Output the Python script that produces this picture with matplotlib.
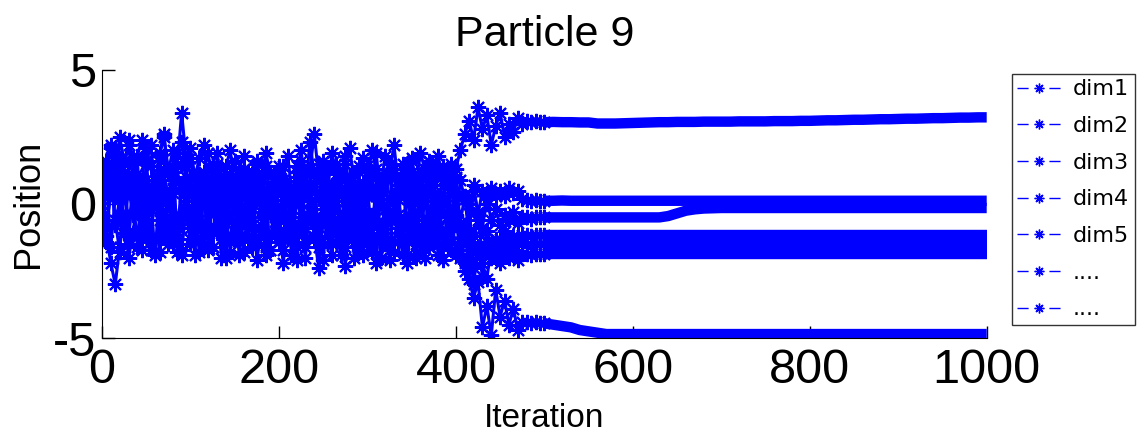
import matplotlib.pyplot as plt
from matplotlib.lines import Line2D
from matplotlib.font_manager import FontProperties

plt.rcParams['font.family'] = ['Liberation Sans', 'DejaVu Sans']
plt.rcParams['axes.unicode_minus'] = False

# iterations: every 5 while the swarm is still exploring, every 10 afterwards
iters_explore = list(range(0, 500, 5))
iters_settled = list(range(500, 1001, 10))

dim1_explore = [0.8, 1.6, 2.2, 1.9, 0.5, 1.2, 2.4, 1.7, -0.2, 0.9,
                2.1, 1.4, 0.3, 1.8, 2.5, 1.1, 0.6, 1.9, 2.3, 1.0,
                1.7, 0.4, -0.6, 1.2, 1.9, 0.8, 1.5, 0.2, -0.4, 1.1,
                1.6, 0.7, 1.3, -0.3, 0.9, 1.5, 0.1, 1.2, 0.6, -0.5,
                0.8, 1.4, 0.3, -0.8, 1.0, 1.6, 0.5, 2.3, 1.1, 0.2,
                1.3, 0.7, -0.2, 1.5, 0.9, 1.8, 0.4, 1.1, -0.6, 0.8,
                1.4, 0.6, 1.9, 0.2, 1.0, 1.5, -0.3, 0.9, 1.3, 0.5,
                1.7, 0.8, 0.1, 1.2, 1.6, 0.7, 1.1, 1.4, 0.9, 1.5,
                1.3, 2.0, 2.6, 3.1, 2.4, 3.6, 2.8, 3.3, 2.2, 2.9,
                3.4, 2.5, 3.0, 2.7, 3.2, 3.0, 3.1, 3.05, 3.1, 3.05]
dim1_settled = [3.05, 3.06, 3.05, 3.05, 3.04, 3.04, 3.0, 3.0, 3.0, 3.01,
                3.02, 3.03, 3.04, 3.05, 3.05, 3.06, 3.06, 3.06, 3.07, 3.07,
                3.07, 3.07, 3.08, 3.08, 3.08, 3.08, 3.09, 3.09, 3.09, 3.1,
                3.1, 3.11, 3.12, 3.12, 3.13, 3.14, 3.14, 3.15, 3.16, 3.16,
                3.17, 3.18, 3.18, 3.19, 3.2, 3.2, 3.21, 3.22, 3.22, 3.23,
                3.23]

dim2_explore = [-0.5, 0.6, 1.3, -0.8, 0.2, 1.5, -1.2, 0.4, 1.1, -0.3,
                0.9, -1.4, 0.5, 1.6, -0.7, 0.1, 1.2, -1.0, 0.6, 1.4,
                -0.9, 0.3, 1.1, -1.5, 0.7, -0.2, 1.3, -1.1, 0.4, 0.9,
                -1.3, 0.6, -0.4, 1.2, -0.8, 0.3, 1.0, -1.6, 0.5, 1.1,
                -0.6, 0.8, -1.2, 0.2, 1.4, -0.9, 0.6, -0.3, 1.1, -1.4,
                0.5, 1.3, -0.7, 0.1, -1.5, 0.9, 0.3, -1.0, 1.2, -0.4,
                0.7, -1.3, 1.0, 0.2, -0.8, 1.5, -0.5, 0.4, -1.2, 0.8,
                1.2, -0.6, 0.3, -1.4, 0.9, 0.1, -0.9, 1.1, -0.3, 0.6,
                -0.8, 0.9, 0.2, -1.1, 0.7, -0.4, 0.5, 0.0, 0.6, 0.3,
                0.5, 0.3, 0.6, 0.4, 0.5, 0.2, 0.15, 0.12, 0.13, 0.12]
dim2_settled = [0.12, 0.12, 0.13, 0.12, 0.12, 0.12, 0.12, 0.12, 0.12, 0.12,
                0.12, 0.12, 0.12, 0.12, 0.12, 0.12, 0.12, 0.12, 0.12, 0.12,
                0.12, 0.12, 0.12, 0.12, 0.12, 0.12, 0.12, 0.12, 0.12, 0.12,
                0.12, 0.12, 0.12, 0.12, 0.12, 0.12, 0.12, 0.12, 0.12, 0.12,
                0.12, 0.12, 0.12, 0.12, 0.12, 0.12, 0.12, 0.12, 0.12, 0.12,
                0.12]

dim3_explore = [1.2, -0.9, 0.4, 1.8, -0.4, 0.8, -1.5, 1.0, 0.2, -1.1,
                1.6, -0.2, 0.7, -1.3, 1.1, 0.3, -0.8, 1.5, -0.5, 0.6,
                1.0, -1.2, 0.5, 0.1, -0.9, 1.4, -0.3, 0.8, -1.4, 0.2,
                0.9, -0.7, 1.3, 0.0, -1.2, 0.6, -0.5, 1.4, 0.3, -1.0,
                1.1, -0.4, 0.7, -1.3, 0.4, 1.2, -0.9, 0.1, -0.6, 1.5,
                -0.2, 0.8, -1.1, 1.3, 0.5, -0.8, 1.0, -0.3, 0.6, -1.5,
                0.3, 1.2, -0.7, 0.9, -1.1, 0.2, 1.3, -0.4, 0.8, -0.9,
                0.5, -1.2, 1.0, 0.4, -0.6, 1.3, -1.0, 0.2, 0.8, -0.5,
                1.0, -0.7, 0.3, -1.0, 0.5, -0.3, -0.9, 0.2, -0.6, -0.2,
                -0.8, -0.4, -0.6, -0.3, -0.7, -0.5, -0.5, -0.55, -0.5, -0.5]
dim3_settled = [-0.5, -0.5, -0.5, -0.5, -0.5, -0.5, -0.5, -0.5, -0.5, -0.5,
                -0.5, -0.5, -0.5, -0.5, -0.45, -0.35, -0.25, -0.2, -0.17, -0.16,
                -0.15, -0.15, -0.15, -0.15, -0.15, -0.15, -0.15, -0.15, -0.15, -0.15,
                -0.15, -0.15, -0.15, -0.15, -0.15, -0.15, -0.15, -0.15, -0.15, -0.15,
                -0.15, -0.15, -0.15, -0.15, -0.15, -0.15, -0.15, -0.15, -0.15, -0.15,
                -0.15]

dim4_explore = [-0.8, 0.9, -1.6, 0.3, 1.4, -1.1, 0.6, -0.4, 1.7, -1.3,
                0.2, -1.7, 0.9, -0.6, 1.3, -1.2, 0.4, -1.8, 0.8, -0.2,
                -1.5, 0.6, -0.8, 1.0, -1.7, 0.2, -1.1, 0.7, -0.5, -1.8,
                0.4, -1.4, 0.8, -0.9, -1.6, 0.5, -0.3, -1.9, 0.6, -1.2,
                -0.3, -1.7, 0.5, -1.0, -2.1, 0.3, -1.4, 0.8, -0.7, -1.6,
                0.2, -1.2, -1.9, 0.6, -0.5, -1.6, 0.3, -2.0, -0.8, 0.4,
                -1.5, -0.4, -2.2, 0.5, -1.1, -1.7, 0.1, -0.9, -1.9, 0.6,
                -1.3, -2.0, 0.2, -0.8, -1.6, 0.4, -1.2, -2.1, -0.5, -1.4,
                0.3, -1.7, -0.9, -2.3, -1.2, -0.6, -1.8, -1.0, -1.5, -1.3,
                -1.6, -1.0, -1.4, -1.2, -1.3, -1.15, -1.15, -1.2, -1.15, -1.15]
dim4_settled = [-1.15, -1.15, -1.15, -1.15, -1.15, -1.15, -1.15, -1.15, -1.15, -1.15,
                -1.15, -1.15, -1.15, -1.15, -1.15, -1.15, -1.15, -1.15, -1.15, -1.15,
                -1.15, -1.15, -1.15, -1.15, -1.15, -1.15, -1.15, -1.15, -1.15, -1.15,
                -1.15, -1.15, -1.15, -1.15, -1.15, -1.15, -1.15, -1.15, -1.15, -1.15,
                -1.15, -1.15, -1.15, -1.15, -1.15, -1.15, -1.15, -1.15, -1.15, -1.15,
                -1.15]

dim5_explore = [0.2, -1.4, 0.9, -0.6, -1.8, 1.1, -1.0, 0.5, -1.6, 0.8,
                -1.1, 0.3, -1.9, 0.6, -0.4, -1.5, 0.9, -0.8, -1.7, 0.4,
                -0.6, -1.9, 0.7, -1.2, 0.1, -1.6, 0.9, -0.9, -2.0, 0.5,
                -1.1, 0.3, -1.8, -0.2, 0.7, -1.5, -0.8, 0.4, -1.7, 0.0,
                -1.4, 0.6, -0.9, -1.9, 0.2, -0.5, -1.6, 0.5, -1.2, -2.4,
                -0.6, 0.4, -1.4, -0.9, -1.9, 0.3, -1.1, 0.5, -1.7, -0.2,
                -0.9, -1.8, 0.4, -1.3, -0.2, -2.1, 0.3, -1.4, -0.7, -1.9,
                0.2, -1.0, -1.8, 0.5, -1.3, -0.4, -1.9, 0.1, -1.1, -1.7,
                -0.4, -2.0, -1.3, 0.0, -2.4, -1.6, -2.7, -1.4, -2.0, -1.7,
                -1.3, -1.9, -1.5, -1.7, -1.4, -1.5, -1.5, -1.55, -1.5, -1.5]
dim5_settled = [-1.5, -1.5, -1.5, -1.5, -1.5, -1.5, -1.5, -1.5, -1.5, -1.5,
                -1.5, -1.5, -1.5, -1.5, -1.5, -1.5, -1.5, -1.5, -1.5, -1.5,
                -1.5, -1.5, -1.5, -1.5, -1.5, -1.5, -1.5, -1.5, -1.5, -1.5,
                -1.5, -1.5, -1.5, -1.5, -1.5, -1.5, -1.5, -1.5, -1.5, -1.5,
                -1.5, -1.5, -1.5, -1.5, -1.5, -1.5, -1.5, -1.5, -1.5, -1.5,
                -1.5]

dim6_explore = [-0.3, -1.2, -2.2, -3.0, -1.6, -0.5, -2.0, -1.1, 0.3, -1.7,
                -0.4, -1.3, 0.6, -1.8, -0.9, 0.2, -1.5, -0.6, -1.9, 0.1,
                -1.3, -0.3, -1.8, 0.4, -1.0, -1.6, 0.0, -2.0, -0.7, -1.4,
                0.2, -1.9, -0.6, -1.3, 0.5, -2.1, -1.0, -0.4, -1.7, 0.3,
                -1.0, -2.2, -0.5, 0.4, -1.6, -0.9, -2.0, 0.1, -1.3, -0.7,
                -2.1, -0.2, -1.5, 0.5, -1.0, -2.3, -0.6, -1.4, 0.2, -1.9,
                -0.6, -1.2, 0.3, -2.0, -1.5, -0.4, -1.8, 0.2, -1.2, -2.2,
                -0.5, -1.5, 0.4, -2.0, -0.8, -1.4, 0.3, -1.6, -1.0, -0.3,
                -1.9, -0.8, -2.5, -1.4, -3.0, -1.7, -2.2, -2.8, -1.6, -2.0,
                -2.2, -1.7, -2.0, -1.8, -2.1, -1.85, -1.85, -1.9, -1.85, -1.85]
dim6_settled = [-1.85, -1.85, -1.85, -1.85, -1.85, -1.85, -1.85, -1.85, -1.85, -1.85,
                -1.85, -1.85, -1.85, -1.85, -1.85, -1.85, -1.85, -1.85, -1.85, -1.85,
                -1.85, -1.85, -1.85, -1.85, -1.85, -1.85, -1.85, -1.85, -1.85, -1.85,
                -1.85, -1.85, -1.85, -1.85, -1.85, -1.85, -1.85, -1.85, -1.85, -1.85,
                -1.85, -1.85, -1.85, -1.85, -1.85, -1.85, -1.85, -1.85, -1.85, -1.85,
                -1.85]

dim7_explore = [0.5, 1.3, 2.1, 0.8, 2.5, 1.6, 2.2, 0.9, 1.8, 2.4,
                1.5, 2.2, 0.7, 1.9, 2.6, 1.2, 2.0, 1.4, 3.4, 1.7,
                2.1, 1.0, 1.7, 2.2, 0.6, 1.5, 1.9, 0.9, 1.4, 2.0,
                0.7, 1.3, 1.8, 0.4, 1.1, 1.6, 0.8, 1.9, 1.2, 0.5,
                1.4, 0.9, 1.8, 0.3, 1.2, 2.0, 0.7, 1.3, 2.6, 1.0,
                1.6, 0.5, 1.9, 1.1, 0.6, 1.5, 2.1, 0.8, 1.4, 1.7,
                0.9, 2.0, 1.3, 0.6, 1.8, 1.1, 2.2, 0.7, 1.5, 1.0,
                1.6, 0.8, 1.9, 1.3, 0.5, 1.4, 1.8, 0.9, 1.2, 0.6,
                -0.5, -1.4, -2.2, -2.8, -3.5, -2.9, -4.6, -3.8, -4.9, -3.2,
                -4.2, -3.6, -4.5, -3.9, -4.7, -4.4, -4.4, -4.45, -4.4, -4.45]
dim7_settled = [-4.45, -4.5, -4.55, -4.6, -4.7, -4.75, -4.8, -4.85, -4.85, -4.85,
                -4.85, -4.85, -4.85, -4.85, -4.85, -4.85, -4.85, -4.85, -4.85, -4.85,
                -4.85, -4.85, -4.85, -4.85, -4.85, -4.85, -4.85, -4.85, -4.85, -4.85,
                -4.85, -4.85, -4.85, -4.85, -4.85, -4.85, -4.85, -4.85, -4.85, -4.85,
                -4.85, -4.85, -4.85, -4.85, -4.85, -4.85, -4.85, -4.85, -4.85, -4.85,
                -4.85]

explore = [dim1_explore, dim2_explore, dim3_explore, dim4_explore,
           dim5_explore, dim6_explore, dim7_explore]
settled = [dim1_settled, dim2_settled, dim3_settled, dim4_settled,
           dim5_settled, dim6_settled, dim7_settled]
labels = ['dim1', 'dim2', 'dim3', 'dim4', 'dim5', '....', '....']

star = (8, 2, 0)  # asterisk like matlab '*'

fig = plt.figure(figsize=(11.46, 4.34), dpi=100)
ax = fig.add_axes([0.089, 0.221, 0.772, 0.618])

for ex, st in zip(explore, settled):
    ax.plot(iters_explore + iters_settled[:1], ex + st[:1], '-', color='blue',
            marker=star, markersize=11, markeredgewidth=1.5, linewidth=2.2)
    # converged part: dense markers merge into a thick band
    ax.plot(iters_settled, st, '-', color='blue', linewidth=7.5,
            solid_capstyle='butt')

ax.set_xlim(0, 1000)
ax.set_ylim(-5, 5)
ax.set_xticks([0, 200, 400, 600, 800, 1000])
ax.set_yticks([-5, 0, 5])
ax.tick_params(direction='in', length=9, labelsize=35, width=1)
ax.tick_params(axis='x', pad=7)
ax.tick_params(axis='y', pad=4)
ax.spines['top'].set_visible(False)
ax.spines['right'].set_visible(False)
ax.set_xlabel('Iteration', fontsize=24, labelpad=7)
ax.set_ylabel('Position', fontsize=26, labelpad=5)
ax.set_title('Particle 9', fontsize=31, pad=17)

handles = [Line2D([], [], color='blue', linestyle=(0, (8, 15)), linewidth=1,
                  marker=star, markersize=7, markeredgewidth=1) for _ in labels]
leg = fig.legend(handles, labels, loc='upper left', bbox_to_anchor=(0.883, 0.83),
                 prop=FontProperties(family='DejaVu Sans', size=16),
                 frameon=True, fancybox=False, edgecolor='black',
                 labelspacing=0.75, handlelength=1.95, handletextpad=0.55,
                 borderpad=0.25, borderaxespad=0)
leg.get_frame().set_linewidth(1)

fig.savefig('out.png', dpi=100)
